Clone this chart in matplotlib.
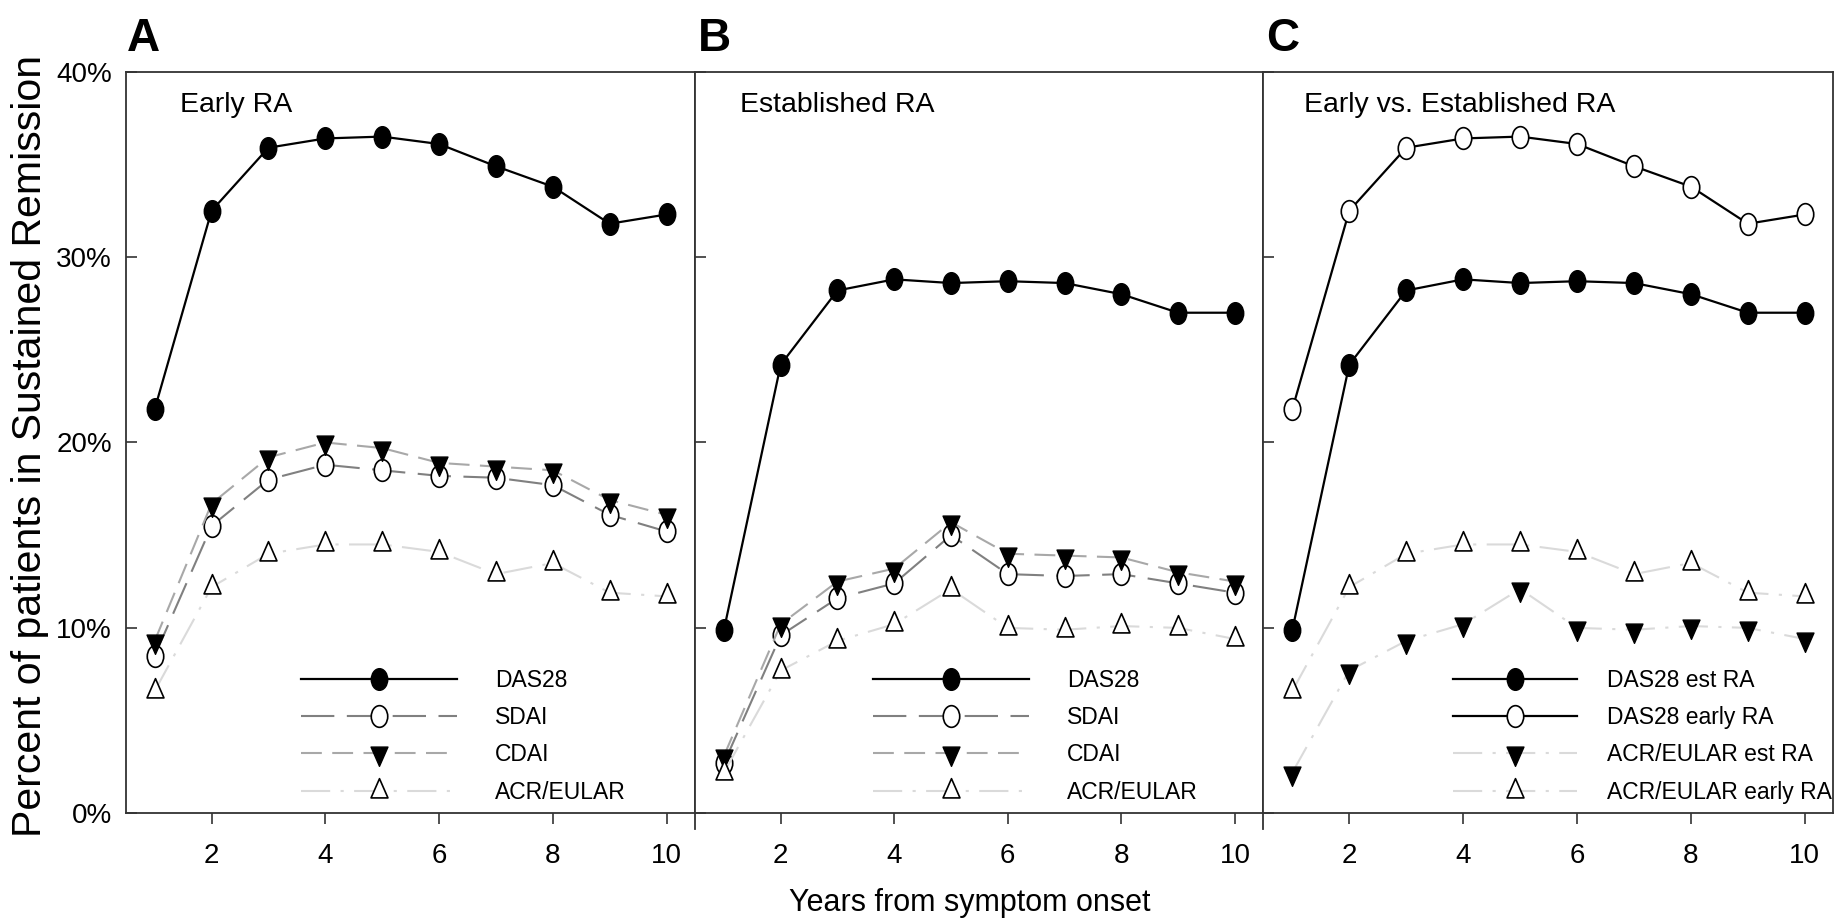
import matplotlib
matplotlib.use("Agg")
import matplotlib.pyplot as plt
from matplotlib.path import Path
from matplotlib.transforms import Affine2D

# --- data (percent of patients in sustained remission) ---
years = [1, 2, 3, 4, 5, 6, 7, 8, 9, 10]

das28_early = [21.8, 32.5, 35.9, 36.4, 36.5, 36.1, 34.9, 33.8, 31.8, 32.3]
sdai_early = [8.5, 15.5, 18.0, 18.8, 18.5, 18.2, 18.1, 17.7, 16.1, 15.2]
cdai_early = [9.3, 16.7, 19.2, 20.0, 19.7, 18.9, 18.7, 18.5, 16.9, 16.1]
acr_early = [6.6, 12.2, 14.0, 14.5, 14.5, 14.1, 12.9, 13.5, 11.9, 11.7]

das28_est = [9.9, 24.2, 28.2, 28.8, 28.6, 28.7, 28.6, 28.0, 27.0, 27.0]
sdai_est = [2.7, 9.6, 11.6, 12.4, 15.0, 12.9, 12.8, 12.9, 12.4, 11.9]
cdai_est = [3.1, 10.2, 12.5, 13.2, 15.7, 14.0, 13.9, 13.8, 13.0, 12.5]
acr_est = [2.2, 7.7, 9.3, 10.2, 12.1, 10.0, 9.9, 10.1, 10.0, 9.4]

yticks = [0, 10, 20, 30, 40]
xticks = [2, 4, 6, 8, 10]

plt.rcParams["font.family"] = ["Liberation Sans", "DejaVu Sans"]

# markers are a bit squeezed horizontally in the original picture
SQ = 0.76
circle = Path.unit_circle().transformed(Affine2D().scale(SQ, 1))
h = 0.866
tri_up = Path([(-SQ / 2, -h / 3), (SQ / 2, -h / 3), (0, 2 * h / 3), (-SQ / 2, -h / 3)], closed=True)
tri_down = Path([(-SQ / 2, h / 3), (SQ / 2, h / 3), (0, -2 * h / 3), (-SQ / 2, h / 3)], closed=True)

C_SDAI = "#808080"
C_CDAI = "#a8a8a8"
C_ACR = "#dadada"

das_style = dict(color="black", lw=1.6, ls="-", marker=circle, ms=15.6, mfc="black", mec="black")
das_open_style = dict(color="black", lw=1.6, ls="-", marker=circle, ms=15.6, mfc="white", mec="black", mew=1.2)
sdai_style = dict(color=C_SDAI, lw=1.5, dashes=(16, 6), marker=circle, ms=15.6, mfc="white", mec="black", mew=1.2)
cdai_style = dict(color=C_CDAI, lw=1.5, dashes=(10, 5), marker=tri_down, ms=18.5, mfc="black", mec="black")
acr_style = dict(color=C_ACR, lw=1.5, dashes=(14, 5, 1.5, 5), marker=tri_up, ms=18.5, mfc="white", mec="black", mew=1.2)
acr_est_style = dict(color=C_ACR, lw=1.5, dashes=(14, 5, 1.5, 5), marker=tri_down, ms=18.5, mfc="black", mec="black")

fig = plt.figure(figsize=(18.37, 9.21), dpi=100)

bottom, height = 0.11694, 0.80521
lefts = [0.06843, 0.37833, 0.6877]
widths = [0.3099, 0.30936, 0.3103]
axes = [fig.add_axes([l, bottom, w, height]) for l, w in zip(lefts, widths)]

panels = [
    ("Early RA", [(das28_early, das_style, "DAS28"), (sdai_early, sdai_style, "SDAI"),
                  (cdai_early, cdai_style, "CDAI"), (acr_early, acr_style, "ACR/EULAR")]),
    ("Established RA", [(das28_est, das_style, "DAS28"), (sdai_est, sdai_style, "SDAI"),
                        (cdai_est, cdai_style, "CDAI"), (acr_est, acr_style, "ACR/EULAR")]),
    ("Early vs. Established RA", [(das28_est, das_style, "DAS28 est RA"),
                                  (das28_early, das_open_style, "DAS28 early RA"),
                                  (acr_est, acr_est_style, "ACR/EULAR est RA"),
                                  (acr_early, acr_style, "ACR/EULAR early RA")]),
]
title_x = [0.095, 0.079, 0.072]
leg_x = [0.308, 0.314, 0.333]
handle_len = [6.8, 6.8, 5.4]
text_pad = [1.65, 1.65, 1.3]

for i, (ax, (title, series)) in enumerate(zip(axes, panels)):
    for vals, style, lab in series:
        ax.plot(years, vals, label=lab, clip_on=False, **style)

    ax.set_xlim(0.49, 10.5)
    ax.set_ylim(0, 40)
    ax.set_xticks(xticks)
    ax.set_yticks(yticks)
    ax.set_yticklabels([f"{v}%" for v in yticks])
    ax.tick_params(axis="x", direction="out", length=7.7, width=1.2, pad=14,
                   labelsize=20, color="#333333")
    ax.tick_params(axis="y", direction="in", length=8, width=1.2, pad=10,
                   labelsize=20, color="#333333", labelleft=(i == 0))
    for sp in ax.spines.values():
        sp.set_linewidth(1.3)
        sp.set_color("#333333")
    if i > 0:
        # interior panel borders run a little below the x axis
        ax.spines["left"].set_bounds(-0.85, 40)

    ax.text(title_x[i], 0.9457, title, transform=ax.transAxes, fontsize=20.5,
            ha="left", va="baseline")

    ax.legend(loc="lower left", bbox_to_anchor=(leg_x[i], 0.013), frameon=False,
              fontsize=16.5, numpoints=1, borderpad=0, borderaxespad=0,
              handlelength=handle_len[i], handletextpad=text_pad[i], labelspacing=0.62)

for letter, l in zip(["A", "B", "C"], [127, 698, 1266]):
    fig.text(l / 1837, 0.9446, letter, fontsize=33, fontweight="bold", ha="left", va="baseline")

fig.text(30 / 1837, 0.5157, "Percent of patients in Sustained Remission", rotation=90,
         fontsize=29.5, ha="center", va="center")
fig.text(970 / 1837, 0.0105, "Years from symptom onset", fontsize=22, ha="center", va="baseline")

fig.savefig("out.png", dpi=100)
